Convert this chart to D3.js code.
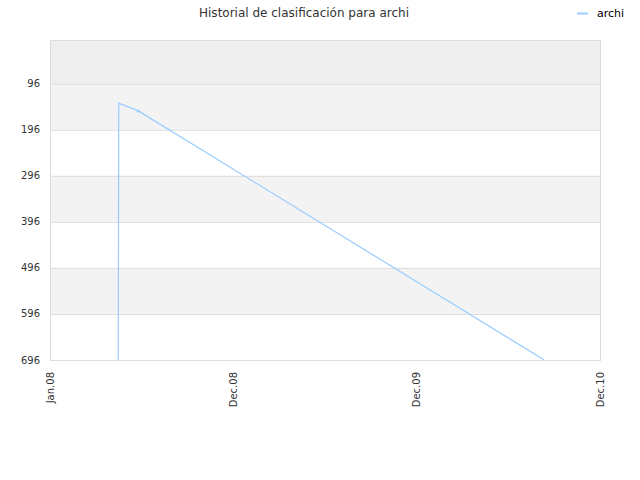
<!DOCTYPE html>
<html><head><meta charset="utf-8">
<script src="https://cdn.jsdelivr.net/npm/d3@7"></script>
<style>body{margin:0;background:#fff}svg{display:block}text{font-family:"DejaVu Sans",sans-serif}</style>
</head><body>
<script>
const title = "Historial de clasificación para archi";
const seriesName = "archi";
const dates = ["2008-05-15", "2008-05-16", "2008-06-24", "2010-09-11"];
const ranks = [696, 138, 155, 696];
const markerIndex = [2];
const yTicks = [96, 196, 296, 396, 496, 596, 696];
const xTickDates = ["2007-12-31", "2008-12-31", "2009-12-31", "2010-12-31"];
const xTickLabels = ["Jan.08", "Dec.08", "Dec.09", "Dec.10"];

const W = 640, H = 480, m = {l: 50, r: 40, t: 40, b: 120};
const parse = d3.utcParse("%Y-%m-%d");
const svg = d3.select("body").append("svg").attr("width", W).attr("height", H);
const x = d3.scaleUtc().domain([parse(xTickDates[0]), parse(xTickDates[3])]).range([m.l, W - m.r]);
const y = d3.scaleLinear().domain([1, 696]).range([m.t, H - m.b]);

// bands
const bandEdges = [1].concat(yTicks);
const bandColors = ["#eeeeee", "#f3f3f3", "#ffffff", "#f3f3f3", "#ffffff", "#f3f3f3", "#ffffff"];
svg.append("g").selectAll("rect").data(d3.range(bandEdges.length - 1)).join("rect")
  .attr("x", m.l).attr("width", W - m.r - m.l)
  .attr("y", i => y(bandEdges[i])).attr("height", i => y(bandEdges[i + 1]) - y(bandEdges[i]))
  .attr("fill", i => bandColors[i]);
// grid
svg.append("g").selectAll("line").data(yTicks).join("line")
  .attr("x1", m.l).attr("x2", W - m.r).attr("y1", d => y(d) + 0.5).attr("y2", d => y(d) + 0.5)
  .attr("stroke", "#dddddd");
svg.append("rect").attr("x", m.l + 0.5).attr("y", m.t + 0.5).attr("width", W - m.r - m.l).attr("height", H - m.b - m.t)
  .attr("fill", "none").attr("stroke", "#dddddd");

// y labels
svg.append("g").selectAll("text").data(yTicks).join("text")
  .attr("x", m.l - 10).attr("y", d => y(d)).attr("dy", "0.35em").attr("text-anchor", "end")
  .attr("font-size", 10).attr("fill", "#333").text(d => d);
// x labels
svg.append("g").selectAll("text").data(xTickDates).join("text")
  .attr("transform", (d) => `translate(${x(parse(d)) + 3.5},${H - m.b + 12}) rotate(-90)`)
  .attr("text-anchor", "end").attr("font-size", 10).attr("fill", "#333")
  .text((d, i) => xTickLabels[i]);

// line
const pts = dates.map((d, i) => [parse(d), ranks[i]]);
svg.append("defs").append("clipPath").attr("id", "c").append("rect")
  .attr("x", m.l).attr("y", m.t).attr("width", W - m.r - m.l).attr("height", H - m.b - m.t);
svg.append("path").datum(pts).attr("clip-path", "url(#c)")
  .attr("d", d3.line().x(d => x(d[0])).y(d => y(d[1])))
  .attr("fill", "none").attr("stroke", "#99ccff").attr("stroke-width", 1.2);
svg.append("g").selectAll("circle").data(markerIndex).join("circle")
  .attr("cx", i => x(pts[i][0])).attr("cy", i => y(pts[i][1])).attr("r", 1.5).attr("fill", "#99ccff");

// title
svg.append("text").attr("x", 304).attr("y", 17).attr("text-anchor", "middle")
  .attr("font-size", 12).attr("fill", "#333").text(title);
// legend
svg.append("line").attr("x1", 577).attr("x2", 588).attr("y1", 13.5).attr("y2", 13.5)
  .attr("stroke", "#99ccff").attr("stroke-width", 2);
svg.append("text").attr("x", 597).attr("y", 17).attr("font-size", 11).attr("fill", "#000").text(seriesName);
</script>
</body></html>
